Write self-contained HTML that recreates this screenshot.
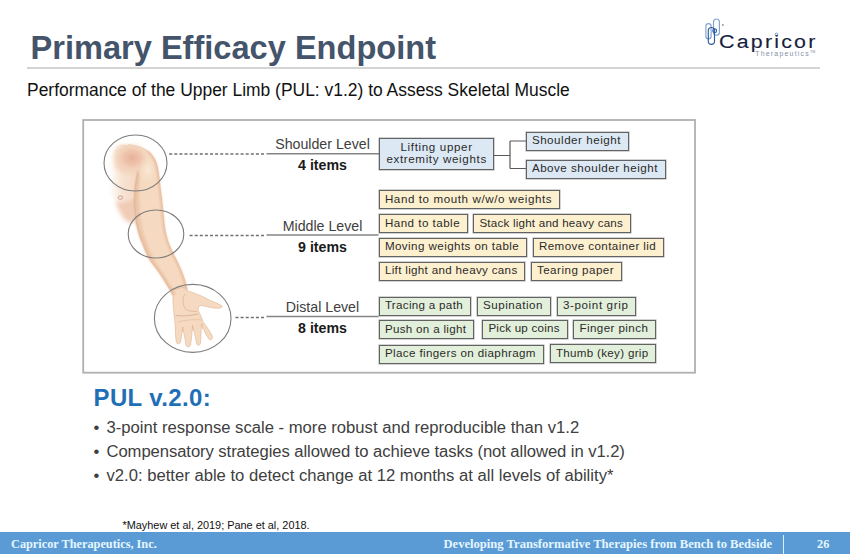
<!DOCTYPE html>
<html><head><meta charset="utf-8">
<style>
*{margin:0;padding:0;box-sizing:border-box}
html,body{width:850px;height:554px;overflow:hidden;background:#fff}
body{position:relative;font-family:"Liberation Sans",sans-serif}
.a{position:absolute;white-space:nowrap;line-height:1}
#title{left:30.5px;top:31.5px;font-size:32.6px;font-weight:bold;color:#44546a;letter-spacing:0px}
#rule{left:27px;top:67px;width:793px;height:2px;background:#d4d4d4}
#sub{left:27px;top:82px;font-size:17.45px;color:#111}
.lvl{position:absolute;width:110px;text-align:center;left:267.5px;font-size:14.2px;color:#404040;line-height:1;white-space:nowrap}
.lvl b{font-weight:bold;color:#1a1a1a}

.bx{position:absolute;height:19px;border:1.3px solid #626262;box-shadow:0 0 0 0.6px rgba(110,110,110,0.5);font-size:11.6px;color:#2b2b2b;line-height:1;padding:1.7px 0 0 5.4px;white-space:nowrap}
.b{background:#dce8f4}
.y{background:#fdf0cf}
.g{background:#e2efda}
#pul{left:93.5px;top:385.5px;font-size:24px;letter-spacing:0.37px;font-weight:bold;color:#1f6fb7}
.bul{position:absolute;left:93.5px;font-size:16.65px;color:#404040;line-height:1;white-space:nowrap}
.bul span{display:inline-block;width:13px}
#fn{left:122.5px;top:519.5px;font-size:10.9px;color:#111}
#foot{left:0;top:532px;width:850px;height:22px;background:#5b9bd5}
.ft{position:absolute;font-family:"Liberation Serif",serif;font-weight:bold;color:#e4f6ff;font-size:12.3px;line-height:1;white-space:nowrap}
</style></head>
<body>
<div class="a" id="title">Primary Efficacy Endpoint</div>
<div class="a" id="rule"></div>
<div class="a" id="sub">Performance of the Upper Limb (PUL: v1.2) to Assess Skeletal Muscle</div>

<!-- logo -->
<svg class="a" style="left:700px;top:14px" width="125" height="46" viewBox="0 0 125 46">
  <g fill="none" stroke-width="1.15">
    <rect x="5.9" y="9.6" width="5.2" height="15.2" rx="2.6" stroke="#7fa2d2"/>
    <rect x="13.5" y="5" width="5.9" height="16.2" rx="2.95" stroke="#7fa2d2"/>
    <rect x="8.3" y="13.5" width="6.2" height="16.8" rx="3.1" stroke="#2f5f9f"/>
    <circle cx="14.7" cy="16.8" r="1.9" stroke="#2f5f9f"/>
  </g>
  <circle cx="22.9" cy="11" r="1" fill="#8c9ab0"/>
  <circle cx="76.5" cy="21.6" r="2.1" fill="#fff"/><circle cx="76.5" cy="20.4" r="1.3" fill="#fff" stroke="#4d7fbf" stroke-width="0.8"/>
  <text transform="translate(19,33.9) scale(1.15,1)" font-family="Liberation Sans" font-size="18.6" fill="#15213d" stroke="#15213d" stroke-width="0.12" textLength="83.8" lengthAdjust="spacing">Capricor</text>
  <text x="55.2" y="42" font-family="Liberation Sans" font-size="6.9" fill="#8490a7" textLength="53.5" lengthAdjust="spacing">Therapeutics</text><text x="110" y="38.5" font-family="Liberation Sans" font-size="3.5" fill="#7d8aa2">TM</text>
</svg>


<!-- arm illustration -->
<svg class="a" style="left:0;top:0" width="850" height="554" viewBox="0 0 850 554">
  <defs>
    <filter id="bl3" x="-50%" y="-50%" width="200%" height="200%"><feGaussianBlur stdDeviation="3.5"/></filter>
    <filter id="bl1" x="-50%" y="-50%" width="200%" height="200%"><feGaussianBlur stdDeviation="0.8"/></filter>
    <filter id="bl2" x="-50%" y="-50%" width="200%" height="200%"><feGaussianBlur stdDeviation="2"/></filter>
    <radialGradient id="sh" cx="0.5" cy="0.5" r="0.5">
      <stop offset="0" stop-color="#e8a993" stop-opacity="0.85"/>
      <stop offset="0.5" stop-color="#eab49e" stop-opacity="0.5"/>
      <stop offset="1" stop-color="#f3d4c0" stop-opacity="0"/>
    </radialGradient>
    <radialGradient id="hi" cx="0.5" cy="0.5" r="0.5">
      <stop offset="0" stop-color="#faebd8" stop-opacity="0.9"/>
      <stop offset="1" stop-color="#f6e0c8" stop-opacity="0"/>
    </radialGradient>
    <radialGradient id="chest2" cx="0.6" cy="0.45" r="0.5">
      <stop offset="0" stop-color="#f4dac6"/>
      <stop offset="0.55" stop-color="#f6e0cf" stop-opacity="0.85"/>
      <stop offset="1" stop-color="#fbefe6" stop-opacity="0"/>
    </radialGradient>
    <radialGradient id="pk" cx="0.5" cy="0.5" r="0.5">
      <stop offset="0" stop-color="#e6ad94" stop-opacity="0.7"/>
      <stop offset="1" stop-color="#f0c8b0" stop-opacity="0"/>
    </radialGradient>
    <linearGradient id="pec" x1="0" y1="0" x2="1" y2="0">
      <stop offset="0" stop-color="#f8e6d6" stop-opacity="0"/>
      <stop offset="0.45" stop-color="#f7e3d1"/>
      <stop offset="1" stop-color="#f4d9c3"/>
    </linearGradient>
    <linearGradient id="chest" x1="0" y1="0" x2="1" y2="0">
      <stop offset="0" stop-color="#fbeee4" stop-opacity="0"/>
      <stop offset="0.6" stop-color="#f6dcc9"/>
      <stop offset="1" stop-color="#f2d0b8"/>
    </linearGradient>
  </defs>
  <rect x="83.2" y="120" width="611.8" height="252.7" fill="none" stroke="#b0b0b0" stroke-width="1.8"/>
  <!-- chest -->
  <path d="M121 145 C114 148 110 156 109 166 L109 190 C111 197 115 201 120 202 C126 202 131 199 136 195 L138 172 Z" fill="url(#pec)" filter="url(#bl2)"/>
  <path d="M116 201 C122 203 129 200 136 195 L136.5 222 C131 224 125 222 121 214 C118 209 116 205 116 201 Z" fill="#eec3a9" filter="url(#bl2)" opacity="0.85"/>
  <!-- arm -->
  <path d="M120 145 C128 144.5 136 145.5 141 147.5 C148 150 153 155 156 162 C158 168 159 176 160 186 C161 195 162.5 205 163.5 218 C164.5 230 167 240 170 247 C174 256 178 263 181 270 C184 277 186 284 187.6 291 C193 292.5 200 295 206 298.3 C212 301.5 218 303.5 221.5 305.5 C223 306.5 222 308 218 308.3 C213 308.5 207 306.5 201 305.5 C198 306 197.5 309 199 312 C200.5 315 202 318.5 203 321.5 C206 326 210 331 212.3 336 C213 338.5 211.5 340.5 209.5 339.5 C207 337 204 331 201.5 323.5 C201 330 201 338 200.5 343 C200 345.5 197.5 346 196.8 344 C195.5 338 194 331 192.5 325.5 C192 332 191.5 340 190.5 345 C189.5 347.5 186.5 347.5 186 345 C185 339 184 333 182.5 327 C182 332 181.5 338 180.5 342 C179.5 344.5 177 344.5 176.3 342 C175.5 337 175.3 331 175.2 325 C174.5 318 173.5 310 173 303 C173 301 173 298 173 295.7 C170 289.6 166 283 162.3 277.3 C159 272 156 268 152 263 C149 259 145 251 142 242 C139 234 136.5 225 136 219 C135 212 134.7 205 134.7 200 C134.8 190 136 180 137.8 171.6 C134 160 128 150 120 145 Z" fill="#f5dac1"/>
  <path d="M128 144.6 C132 145 136 145.5 141 147.5 C148 150 153 155 156 162 C158 168 159 176 160 186 C161 195 162.5 205 163.5 218 C164.5 230 167 240 170 247 C174 256 178 263 181 270 C184 277 186 284 187.6 291 C193 292.5 200 295 206 298.3 C212 301.5 218 303.5 221.5 305.5 C223 306.5 222 308 218 308.3 C213 308.5 207 306.5 201 305.5 C198 306 197.5 309 199 312 C200.5 315 202 318.5 203 321.5 C206 326 210 331 212.3 336 C213 338.5 211.5 340.5 209.5 339.5 C207 337 204 331 201.5 323.5 C201 330 201 338 200.5 343 C200 345.5 197.5 346 196.8 344 C195.5 338 194 331 192.5 325.5 C192 332 191.5 340 190.5 345 C189.5 347.5 186.5 347.5 186 345 C185 339 184 333 182.5 327 C182 332 181.5 338 180.5 342 C179.5 344.5 177 344.5 176.3 342 C175.5 337 175.3 331 175.2 325 C174.5 318 173.5 310 173 303 C173 301 173 298 173 295.7 C170 289.6 166 283 162.3 277.3 C159 272 156 268 152 263 C149 259 145 251 142 242 C139 234 136.5 225 136 219 C135 212 134.7 205 134.7 200 C134.8 190 136 180 137.8 171.6" fill="none" stroke="#e0b392" stroke-width="0.6"/>
  <path d="M118 147 C126 144 136 145 142 148 C146 155 146 165 140 172 C132 176 122 174 116 168 C113 160 114 151 118 147 Z" fill="#f3d4bc" filter="url(#bl2)"/>
  <!-- shading -->
  <path d="M137.8 171.6 C136 180 134.8 190 134.7 200 C134.7 205 135 212 136 219 C136.5 225 139 234 142 242 C145 251 149 259 152 263 C156 268 159 272 162.3 277.3 C166 283 170 289.6 173 295.7 L176 294 C170 284 163 274 157 264 C150 252 145 240 142 226 C139 210 139 190 140 176 Z" fill="#e6b696" opacity="0.5" filter="url(#bl1)"/>
  <ellipse cx="132" cy="158" rx="17" ry="14" fill="url(#sh)"/>
  <ellipse cx="148" cy="170" rx="9" ry="14" fill="url(#hi)"/>
  <ellipse cx="120.4" cy="197.6" rx="2.3" ry="1.7" fill="none" stroke="#c9a09a" stroke-width="1"/>
  <path d="M138 171 C136 180 134.8 190 134.7 200 C134.7 205 135 212 136 219 C136.5 225 139 234 142 242" stroke="#d8a282" stroke-width="1" fill="none" filter="url(#bl1)"/>
  <path d="M148 151 C153 155 156 162 156 162 C158 168 159 176 160 186 C161 195 162.5 205 163.5 218 C164.5 230 167 240 170 247 C174 256 178 263 181 270 C184 277 186 284 187 290" stroke="#e3aa88" stroke-width="2" fill="none" opacity="0.6" filter="url(#bl1)" transform="translate(-0.8,0)"/>
  <path d="M173 295 C170 289.6 166 283 162.3 277.3 C159 272 156 268 152 263 C149 259 145 251 142 242" stroke="#e3aa88" stroke-width="1.6" fill="none" opacity="0.5" filter="url(#bl1)" transform="translate(0.7,0)"/>
  <!-- hand details -->
  <path d="M185 294 C182.5 298 182 304 185.5 309 C188 311 192 311.5 197 311.5" stroke="#dcae8e" stroke-width="0.7" fill="none"/>
  <path d="M183 327 L182.5 332 M192.5 325.5 L193 331 M201.5 323.5 L202.5 329" stroke="#dcae8e" stroke-width="0.6" fill="none"/>
  <path d="M175.5 315.5 C184 316.5 191 315.5 198 314" stroke="#d6a98a" stroke-width="0.8" fill="none"/>
  <path d="M178 322 C186 320 194 319 202 320" stroke="#e0b89a" stroke-width="0.6" fill="none"/>
  <path d="M175 290 C178 288 182 287 186 288" stroke="#dcb092" stroke-width="0.6" fill="none"/>
  <!-- circles -->
  <g fill="none" stroke="#7d7d7d" stroke-width="1.1">
    <ellipse cx="135.5" cy="163" rx="31.5" ry="28"/>
    <ellipse cx="156" cy="234" rx="27.8" ry="24"/>
    <ellipse cx="192.7" cy="318.4" rx="38.3" ry="34"/>
  </g>
  <!-- dashed -->
  <g stroke="#707070" stroke-width="1.5" stroke-dasharray="3 2.1">
    <line x1="169.2" y1="154" x2="265" y2="154"/>
    <line x1="189.6" y1="235.4" x2="265" y2="235.4"/>
    <line x1="235.5" y1="317.4" x2="265" y2="317.4"/>
  </g>
  <g stroke="#858585" stroke-width="1.5">
    <line x1="266.5" y1="153.8" x2="379" y2="153.8"/>
    <line x1="266.5" y1="235.1" x2="378.5" y2="235.1"/>
    <line x1="266.5" y1="316.6" x2="378.5" y2="316.6"/>
  </g>
  <!-- blue connectors -->
  <g stroke="#595959" stroke-width="1.2" fill="none">
    <path d="M493 155.5 H510 M510 141 V168.5 M510 141 H526 M510 168.5 H526"/>
  </g>
</svg>

<!-- level labels -->
<div class="lvl" style="top:136.5px">Shoulder Level</div>
<div class="lvl" style="top:157.5px"><b>4 items</b></div>

<div class="lvl" style="top:218.5px">Middle Level</div>
<div class="lvl" style="top:239.5px"><b>9 items</b></div>

<div class="lvl" style="top:299.5px">Distal Level</div>
<div class="lvl" style="top:320.5px"><b>8 items</b></div>

<!-- blue boxes -->
<div class="bx b" style="left:379px;top:138px;width:114.5px;height:32px;text-align:center;padding:1.7px 0 0 0.7px;line-height:12.5px;letter-spacing:0.64px">Lifting upper<br>extremity weights</div>

<div class="bx b" style="left:525.5px;top:131.5px;width:103.0px;letter-spacing:0.52px">Shoulder height</div>
<div class="bx b" style="left:525.5px;top:159.5px;width:140.0px;letter-spacing:0.51px">Above shoulder height</div>

<!-- yellow boxes -->
<div class="bx y" style="left:378.5px;top:190.0px;width:181.0px;letter-spacing:0.59px">Hand to mouth w/w/o weights</div>
<div class="bx y" style="left:378.5px;top:214.0px;width:89.0px;letter-spacing:0.48px">Hand to table</div>
<div class="bx y" style="left:473.0px;top:214.0px;width:158.0px;letter-spacing:0.22px">Stack light and heavy cans</div>
<div class="bx y" style="left:378.5px;top:237.5px;width:148.0px;letter-spacing:0.43px">Moving weights on table</div>
<div class="bx y" style="left:532.5px;top:237.5px;width:131.0px;letter-spacing:0.42px">Remove container lid</div>
<div class="bx y" style="left:378.5px;top:261.5px;width:146.5px;letter-spacing:0.33px">Lift light and heavy cans</div>
<div class="bx y" style="left:530.5px;top:261.5px;width:91.0px;letter-spacing:0.49px">Tearing paper</div>

<!-- green boxes -->
<div class="bx g" style="left:378.5px;top:296.5px;width:92.0px;letter-spacing:0.31px">Tracing a path</div>
<div class="bx g" style="left:476.5px;top:296.5px;width:74.0px;letter-spacing:0.54px">Supination</div>
<div class="bx g" style="left:556.5px;top:296.5px;width:79.0px;letter-spacing:0.63px">3-point grip</div>
<div class="bx g" style="left:378.5px;top:320.0px;width:95.5px;letter-spacing:0.31px">Push on a light</div>
<div class="bx g" style="left:482.0px;top:319.5px;width:85.5px;letter-spacing:0.23px">Pick up coins</div>
<div class="bx g" style="left:573.0px;top:319.5px;width:83.0px;letter-spacing:0.43px">Finger pinch</div>
<div class="bx g" style="left:378.5px;top:344.5px;width:165.0px;letter-spacing:0.38px">Place fingers on diaphragm</div>
<div class="bx g" style="left:549.5px;top:344.0px;width:106.5px;letter-spacing:0.31px">Thumb (key) grip</div>

<div class="a" id="pul">PUL v.2.0:</div>
<div class="bul" style="top:420px"><span>•</span>3-point response scale - more robust and reproducible than v1.2</div>
<div class="bul" style="top:444px;letter-spacing:-0.075px"><span>•</span>Compensatory strategies allowed to achieve tasks (not allowed in v1.2)</div>
<div class="bul" style="top:468px"><span>•</span>v2.0: better able to detect change at 12 months at all levels of ability*</div>

<div class="a" id="fn">*Mayhew et al, 2019; Pane et al, 2018.</div>

<div class="a" id="foot"></div>
<div class="ft" style="left:11px;top:537.6px">Capricor Therapeutics, Inc.</div>
<div class="ft" style="left:443.5px;top:537.6px;font-size:12.6px">Developing Transformative Therapies from Bench to Bedside</div>
<div class="a" style="left:782.5px;top:535px;width:1.2px;height:19px;background:#dbeefc"></div>
<div class="ft" style="left:817px;top:537.6px">26</div>
</body></html>
